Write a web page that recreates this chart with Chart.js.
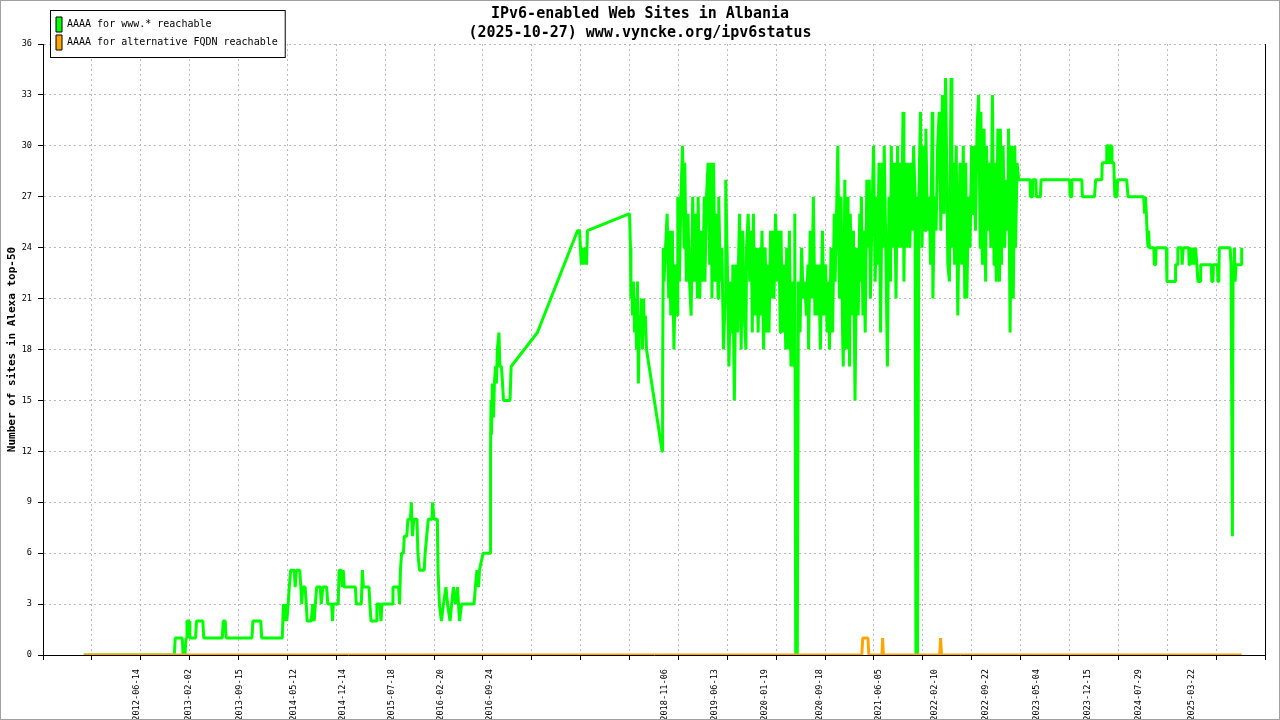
<!DOCTYPE html>
<html>
<head>
<meta charset="utf-8">
<title>IPv6-enabled Web Sites in Albania</title>
<script src="https://cdn.jsdelivr.net/npm/chart.js@4.4.1/dist/chart.umd.min.js"></script>
<style>
    html, body { margin: 0; padding: 0; background: #fff; }
    canvas { display: block; }
</style>
</head>
<body>
<canvas id="ipv6Chart" width="1280" height="720"></canvas>
<script>
// Sites with AAAA for www.* (one line per row)
const wwwDates = [
    '2011-10-26', '2012-11-29', '2012-12-03', '2013-01-03', '2013-01-07', '2013-01-15', '2013-01-20', '2013-01-24',
    '2013-02-02', '2013-02-06', '2013-03-03', '2013-03-07', '2013-04-04', '2013-04-08', '2013-06-29', '2013-07-03',
    '2013-07-12', '2013-07-16', '2013-11-07', '2013-11-11', '2013-12-16', '2013-12-20', '2014-03-21', '2014-03-26',
    '2014-03-30', '2014-04-04', '2014-04-10', '2014-04-16', '2014-04-21', '2014-04-27', '2014-05-13', '2014-05-17',
    '2014-05-22', '2014-06-06', '2014-06-11', '2014-06-15', '2014-06-19', '2014-06-30', '2014-07-05', '2014-07-09',
    '2014-07-27', '2014-08-02', '2014-08-09', '2014-08-14', '2014-08-20', '2014-09-05', '2014-09-09', '2014-09-16',
    '2014-10-03', '2014-10-08', '2014-10-25', '2014-10-29', '2014-11-01', '2014-11-23', '2014-11-27', '2014-12-06',
    '2014-12-11', '2014-12-15', '2014-12-20', '2015-02-07', '2015-02-11', '2015-03-05', '2015-03-10', '2015-03-14',
    '2015-04-08', '2015-04-12', '2015-04-17', '2015-05-09', '2015-05-13', '2015-05-26', '2015-05-31', '2015-06-04',
    '2015-07-19', '2015-07-23', '2015-08-17', '2015-08-21', '2015-08-25', '2015-08-30', '2015-09-07', '2015-09-11',
    '2015-09-22', '2015-09-27', '2015-10-08', '2015-10-12', '2015-10-17', '2015-10-23', '2015-11-06', '2015-11-10',
    '2015-11-17', '2015-12-08', '2015-12-12', '2015-12-19', '2015-12-26', '2016-01-11', '2016-01-14', '2016-01-20',
    '2016-02-04', '2016-02-07', '2016-02-13', '2016-02-22', '2016-03-02', '2016-03-13', '2016-03-20', '2016-03-31',
    '2016-04-07', '2016-04-15', '2016-04-24', '2016-05-03', '2016-05-12', '2016-05-21', '2016-07-15', '2016-07-21',
    '2016-07-28', '2016-08-04', '2016-08-08', '2016-08-24', '2016-09-24', '2016-09-26', '2016-09-28', '2016-09-30',
    '2016-10-04', '2016-10-09', '2016-10-13', '2016-10-18', '2016-10-22', '2016-10-26', '2016-11-02', '2016-11-06',
    '2016-11-13', '2016-11-18', '2016-11-22', '2016-12-21', '2016-12-26', '2017-04-21', '2017-10-15', '2017-10-24',
    '2017-10-28', '2017-11-01', '2017-11-06', '2017-11-10', '2017-11-17', '2017-11-24', '2017-11-28', '2018-06-02',
    '2018-06-06', '2018-06-08', '2018-06-11', '2018-06-15', '2018-06-19', '2018-06-24', '2018-06-28', '2018-07-03',
    '2018-07-07', '2018-07-11', '2018-07-16', '2018-07-20', '2018-07-25', '2018-07-29', '2018-08-03', '2018-08-07',
    '2018-08-11', '2018-08-16', '2018-10-24', '2018-10-26', '2018-10-29',
    '2018-11-01', '2018-11-08', '2018-11-15', '2018-11-22', '2018-11-26',
    '2018-12-01', '2018-12-08', '2018-12-15', '2018-12-22', '2018-12-29',
    '2019-01-01', '2019-01-08', '2019-01-15', '2019-01-22', '2019-01-29',
    '2019-02-01', '2019-02-08', '2019-02-15', '2019-02-22',
    '2019-03-01', '2019-03-08', '2019-03-15', '2019-03-22', '2019-03-29',
    '2019-04-01', '2019-04-08', '2019-04-15', '2019-04-22', '2019-04-28',
    '2019-05-01', '2019-05-08', '2019-05-15', '2019-05-22', '2019-05-29',
    '2019-06-01', '2019-06-08', '2019-06-15', '2019-06-22', '2019-06-28',
    '2019-07-01', '2019-07-08', '2019-07-15', '2019-07-22', '2019-07-29',
    '2019-08-01', '2019-08-08', '2019-08-15', '2019-08-22', '2019-08-29',
    '2019-09-01', '2019-09-08', '2019-09-15', '2019-09-22', '2019-09-26',
    '2019-10-01', '2019-10-08', '2019-10-15', '2019-10-22', '2019-10-29',
    '2019-11-01', '2019-11-08', '2019-11-15', '2019-11-22', '2019-11-26',
    '2019-12-01', '2019-12-08', '2019-12-15', '2019-12-22', '2019-12-29',
    '2020-01-01', '2020-01-08', '2020-01-15', '2020-01-22', '2020-01-29',
    '2020-02-01', '2020-02-08', '2020-02-15', '2020-02-22', '2020-02-26',
    '2020-03-01', '2020-03-08', '2020-03-15', '2020-03-22', '2020-03-29',
    '2020-04-01', '2020-04-08', '2020-04-15', '2020-04-22', '2020-04-26',
    '2020-05-01', '2020-05-08', '2020-05-15', '2020-05-22', '2020-05-29',
    '2020-06-01', '2020-06-05', '2020-06-12', '2020-06-17', '2020-06-24',
    '2020-07-01', '2020-07-08', '2020-07-15', '2020-07-22', '2020-07-29',
    '2020-08-01', '2020-08-08', '2020-08-15', '2020-08-22', '2020-08-29',
    '2020-09-01', '2020-09-08', '2020-09-15', '2020-09-22', '2020-09-27',
    '2020-10-01', '2020-10-08', '2020-10-15', '2020-10-22', '2020-10-29',
    '2020-11-01', '2020-11-08', '2020-11-15', '2020-11-22', '2020-11-26',
    '2020-12-01', '2020-12-08', '2020-12-15', '2020-12-22', '2020-12-29',
    '2021-01-01', '2021-01-08', '2021-01-15', '2021-01-22', '2021-01-29',
    '2021-02-01', '2021-02-08', '2021-02-15', '2021-02-22',
    '2021-03-01', '2021-03-08', '2021-03-15', '2021-03-19', '2021-03-22', '2021-03-29',
    '2021-04-01', '2021-04-08', '2021-04-15', '2021-04-22', '2021-04-26',
    '2021-05-01', '2021-05-08', '2021-05-15', '2021-05-22', '2021-05-29',
    '2021-06-01', '2021-06-08', '2021-06-15', '2021-06-22', '2021-06-26',
    '2021-07-01', '2021-07-08', '2021-07-15', '2021-07-22', '2021-07-29',
    '2021-08-01', '2021-08-08', '2021-08-15', '2021-08-22', '2021-08-29',
    '2021-09-01', '2021-09-08', '2021-09-15', '2021-09-22', '2021-09-26',
    '2021-10-01', '2021-10-08', '2021-10-15', '2021-10-22', '2021-10-29',
    '2021-11-01', '2021-11-08', '2021-11-14', '2021-11-18', '2021-11-25',
    '2021-12-01', '2021-12-08', '2021-12-15', '2021-12-22', '2021-12-29',
    '2022-01-01', '2022-01-08', '2022-01-15', '2022-01-22', '2022-01-29',
    '2022-02-01', '2022-02-08', '2022-02-15', '2022-02-22',
    '2022-03-01', '2022-03-08', '2022-03-15', '2022-03-22', '2022-03-29',
    '2022-04-01', '2022-04-08', '2022-04-15', '2022-04-22', '2022-04-26',
    '2022-05-01', '2022-05-08', '2022-05-15', '2022-05-22', '2022-05-29',
    '2022-06-01', '2022-06-08', '2022-06-15', '2022-06-22', '2022-06-26',
    '2022-07-01', '2022-07-08', '2022-07-15', '2022-07-22', '2022-07-29',
    '2022-08-01', '2022-08-08', '2022-08-15', '2022-08-22', '2022-08-29',
    '2022-09-01', '2022-09-08', '2022-09-15', '2022-09-22', '2022-09-26',
    '2022-10-01', '2022-10-08', '2022-10-15', '2022-10-22', '2022-10-29',
    '2022-11-01', '2022-11-08', '2022-11-15', '2022-11-22', '2022-11-26',
    '2022-12-01', '2022-12-08', '2022-12-15', '2022-12-22', '2022-12-29',
    '2023-01-01', '2023-01-08', '2023-01-15', '2023-01-22', '2023-01-29',
    '2023-02-01', '2023-02-08', '2023-02-15', '2023-02-22',
    '2023-03-01', '2023-04-06', '2023-04-08', '2023-04-16', '2023-04-18', '2023-05-02', '2023-05-04', '2023-05-22',
    '2023-05-25', '2023-09-28', '2023-09-30', '2023-10-06', '2023-10-08', '2023-11-21', '2023-11-23', '2024-01-16',
    '2024-01-21', '2024-02-17', '2024-02-19', '2024-03-08', '2024-03-10', '2024-03-18', '2024-03-20', '2024-03-23',
    '2024-03-30', '2024-04-02', '2024-04-10', '2024-04-12', '2024-04-15', '2024-04-24', '2024-04-27', '2024-06-06',
    '2024-06-12', '2024-08-20', '2024-08-24', '2024-08-28', '2024-09-01', '2024-09-04', '2024-09-08', '2024-09-11',
    '2024-09-14', '2024-10-04', '2024-10-06', '2024-10-12', '2024-10-14', '2024-11-28', '2024-12-01', '2025-01-06',
    '2025-01-08', '2025-01-16', '2025-01-18', '2025-02-04', '2025-02-06', '2025-02-09', '2025-02-11', '2025-03-07',
    '2025-03-09', '2025-03-12', '2025-03-15', '2025-03-19', '2025-03-23', '2025-03-26', '2025-04-02', '2025-04-06',
    '2025-04-12', '2025-04-17', '2025-04-27', '2025-04-29', '2025-06-15', '2025-06-17', '2025-06-22', '2025-06-24',
    '2025-07-12', '2025-07-14', '2025-07-18', '2025-07-20', '2025-09-06', '2025-09-10', '2025-09-13', '2025-09-16',
    '2025-09-19', '2025-09-22', '2025-09-25', '2025-09-28', '2025-10-02', '2025-10-24', '2025-10-27',
];
const wwwValues = [
    0, 0, 1, 1, 0, 0, 1, 2,
    2, 1, 1, 2, 2, 1, 1, 2,
    2, 1, 1, 2, 2, 1, 1, 3,
    2, 3, 2, 3, 4, 5, 5, 4,
    5, 5, 4, 3, 4, 4, 3, 2,
    2, 3, 2, 3, 4, 4, 3, 4,
    4, 3, 3, 2, 3, 3, 5, 5,
    4, 5, 4, 4, 3, 3, 5, 4,
    4, 3, 2, 2, 3, 3, 2, 3,
    3, 4, 4, 3, 5, 6, 6, 7,
    7, 8, 8, 9, 7, 8, 8, 6,
    5, 5, 6, 7, 8, 8, 9, 8,
    8, 5, 3, 2, 3, 4, 3, 2,
    3, 4, 3, 4, 2, 3, 3, 4,
    5, 4, 5, 6, 6, 12, 15, 13,
    16, 14, 16, 17, 16, 18, 19, 17,
    17, 16, 15, 15, 17, 19, 25, 25,
    24, 23, 24, 23, 24, 23, 25, 26,
    24, 21, 22, 20, 22, 19, 21, 18,
    22, 16, 20, 19, 21, 18, 21, 19,
    20, 18, 12, 16, 24,
    22, 24, 26, 21, 25,
    20, 25, 18, 23, 20,
    27, 22, 27, 30, 24,
    29, 22, 26, 22,
    20, 27, 22, 26, 21,
    27, 21, 25, 22, 27,
    22, 27, 29, 23, 29,
    21, 29, 22, 26, 21,
    27, 22, 24, 18, 21,
    28, 23, 17, 22, 19,
    23, 15, 23, 19, 23,
    26, 18, 25, 20, 18,
    24, 26, 22, 25, 19,
    26, 20, 24, 19, 24,
    20, 25, 18, 24, 19,
    23, 19, 25, 21, 25,
    21, 26, 22, 25, 19,
    25, 19, 23, 18, 24,
    18, 25, 17, 22, 17,
    26, 0, 0, 22, 19,
    24, 21, 22, 20, 23,
    18, 25, 21, 27, 20,
    23, 20, 23, 18, 22,
    25, 20, 23, 19, 22,
    18, 24, 19, 26, 22,
    25, 30, 21, 27, 19,
    17, 28, 18, 27, 17,
    26, 20, 25, 15,
    24, 20, 26, 22, 27, 20,
    25, 19, 28, 24, 28,
    21, 26, 30, 22, 27,
    23, 29, 19, 29, 24,
    30, 24, 17, 27, 22,
    30, 24, 29, 21, 30,
    24, 29, 24, 32, 22,
    29, 24, 29, 24, 29,
    25, 30, 27, 0, 0,
    27, 32, 24, 30, 25,
    31, 25, 27, 23, 32,
    21, 27, 25, 30,
    32, 25, 33, 26, 34,
    31, 23, 22, 34, 24,
    29, 23, 30, 20, 27,
    29, 23, 30, 21, 29,
    21, 27, 24, 30, 26,
    30, 25, 31, 33, 24,
    32, 23, 31, 22, 30,
    25, 29, 24, 33, 23,
    29, 22, 31, 22, 31,
    23, 30, 24, 28, 25,
    31, 19, 30, 21, 30,
    24, 29, 28, 28,
    28, 28, 27, 27, 28, 28, 27, 27,
    28, 28, 27, 27, 28, 28, 27, 27,
    28, 28, 29, 29, 30, 30, 29, 30,
    30, 29, 29, 28, 27, 27, 28, 28,
    27, 27, 26, 27, 26, 25, 24, 25,
    24, 24, 23, 23, 24, 24, 22, 22,
    23, 23, 24, 24, 23, 23, 24, 24,
    23, 24, 23, 24, 23, 24, 23, 24,
    23, 22, 22, 23, 23, 22, 22, 23,
    23, 22, 22, 24, 24, 23, 15, 7,
    23, 22, 24, 22, 23, 23, 24,
];

// Sites with AAAA only for an alternative FQDN
const altDates = [
    '2011-10-26', '2021-03-24', '2021-03-28', '2021-04-20', '2021-04-24', '2021-06-21',
    '2021-06-24', '2021-06-27', '2022-03-03', '2022-03-07', '2022-03-11', '2025-10-27',
];
const altValues = [
    0, 0, 1, 1, 0, 0,
    1, 0, 0, 1, 0, 0,
];

// Dated labels under the x axis
const tickLabels = [
    '2012-06-14', '2013-02-02', '2013-09-15', '2014-05-12', '2014-12-14', '2015-07-18',
    '2016-02-20', '2016-09-24', '2018-11-06', '2019-06-13', '2020-01-19', '2020-09-18',
    '2021-06-05', '2022-02-10', '2022-09-22', '2023-05-04', '2023-12-15', '2024-07-29',
    '2025-03-22',
];

// Ends of the x axis and how many grid steps sit between them
const axisStart = '2011-04-29';
const axisEnd = '2026-02-07';
const gridSteps = 25;

document.addEventListener('DOMContentLoaded', () => {
    const toDay = s => Date.parse(s) / 86400000;
    const labelDays = new Map(tickLabels.map(s => [toDay(s), s]));
    const xMin = toDay(axisStart);
    const xMax = toDay(axisEnd);

    // Evenly spaced grid ticks (no text) like gnuplot, plus the dated labels (no grid)
    const gridTicks = [];
    for (let i = 0; i <= gridSteps; i++) {
        gridTicks.push(xMin + (xMax - xMin) * i / gridSteps);
    }
    const allTicks = gridTicks.concat([...labelDays.keys()]).sort((a, b) => a - b);
    const isLabel = ctx => ctx.tick && labelDays.has(ctx.tick.value);

    Chart.defaults.font.family = "'DejaVu Sans Mono', 'Liberation Mono', monospace";
    Chart.defaults.color = '#000';

    // Legend box with a frame, moved to the top-left corner, and the outer grey frame
    const legendFrame = {
        id: 'legendFrame',
        beforeDraw(chart) {
            const ctx = chart.ctx;
            ctx.save();
            ctx.fillStyle = '#fff';
            ctx.fillRect(0, 0, chart.width, chart.height);
            ctx.restore();
        },
        afterLayout(chart) {
            const legend = chart.legend;
            legend.left = 53;
            legend.top = 14;
            legend.right = 320;
            legend.bottom = 90;
        },
        afterDraw(chart) {
            const ctx = chart.ctx;
            const legend = chart.legend;
            const boxes = legend.legendHitBoxes;
            const maxW = Math.max(...boxes.map(b => b.width));
            const left = legend.left - 3;
            const top = legend.top - 4;
            const width = 3 + maxW + 7 + 3;
            const height = 4 + 3 + boxes.length * 18 - 3 + 7;
            ctx.save();
            ctx.fillStyle = '#fff';
            ctx.fillRect(left, top, width, height);
            ctx.strokeStyle = '#000';
            ctx.lineWidth = 1;
            ctx.strokeRect(left + 0.5, top + 0.5, width, height);
            ctx.restore();
            legend.draw();

            ctx.save();
            ctx.strokeStyle = '#a0a0a0';
            ctx.lineWidth = 1;
            ctx.strokeRect(0.5, 0.5, chart.width - 1, chart.height - 1);
            ctx.restore();
        },
    };

    new Chart(document.getElementById('ipv6Chart'), {
        type: 'line',
        data: {
            datasets: [{
                label: 'AAAA for www.* reachable',
                data: wwwDates.map((d, i) => ({ x: toDay(d), y: wwwValues[i] })),
                borderColor: '#00ff00',
                backgroundColor: '#00ff00',
                order: 1,
            }, {
                label: 'AAAA for alternative FQDN reachable',
                data: altDates.map((d, i) => ({ x: toDay(d), y: altValues[i] })),
                borderColor: '#ffa500',
                backgroundColor: '#ffa500',
                order: 0,
            }],
        },
        options: {
            responsive: false,
            animation: false,
            devicePixelRatio: 1,
            layout: { padding: 0 },
            elements: {
                point: { radius: 0, hoverRadius: 0 },
                line: { borderWidth: 3, tension: 0, borderJoinStyle: 'bevel', borderCapStyle: 'butt', fill: false },
            },
            scales: {
                x: {
                    type: 'linear',
                    min: xMin,
                    max: xMax,
                    afterBuildTicks: scale => {
                        scale.ticks = allTicks.map(v => ({ value: v }));
                    },
                    afterFit: scale => {
                        scale.height = 65;
                        // the rotated labels must not push the plot inwards
                        scale.paddingLeft = 0;
                        scale.paddingRight = 0;
                    },
                    ticks: {
                        autoSkip: false,
                        minRotation: 90,
                        maxRotation: 90,
                        padding: 9,
                        font: { size: 8.6 },
                        callback: value => labelDays.get(value) || '',
                    },
                    grid: {
                        color: ctx => isLabel(ctx) ? 'rgba(0,0,0,0)' : '#bbbbbb',
                        tickColor: ctx => isLabel(ctx) ? 'rgba(0,0,0,0)' : '#000000',
                        tickLength: 5,
                        lineWidth: 1,
                    },
                    border: { color: '#000', width: 1, dash: [2, 3] },
                },
                y: {
                    min: 0,
                    max: 36,
                    afterFit: scale => {
                        scale.width = 43;
                    },
                    ticks: { stepSize: 3, padding: 6, font: { size: 8.6 } },
                    grid: { color: '#bbbbbb', tickColor: '#000', tickLength: 5, lineWidth: 1 },
                    border: { color: '#000', width: 1, dash: [2, 3] },
                    title: {
                        display: true,
                        text: 'Number of sites in Alexa top-50',
                        font: { size: 11, weight: 'bold' },
                        padding: { top: 6, bottom: 0 },
                    },
                },
                y2: {
                    position: 'right',
                    min: 0,
                    max: 36,
                    afterFit: scale => {
                        scale.width = 15;
                    },
                    ticks: { display: false },
                    grid: { display: false },
                    border: { color: '#000', width: 1 },
                },
            },
            plugins: {
                title: {
                    display: true,
                    text: ['IPv6-enabled Web Sites in Albania', '(2025-10-27) www.vyncke.org/ipv6status'],
                    font: { size: 15, weight: 'bold', lineHeight: 1.3 },
                    padding: { top: 4, bottom: 1 },
                    color: '#000',
                },
                legend: {
                    position: 'chartArea',
                    align: 'start',
                    labels: {
                        boxWidth: 6,
                        boxHeight: 15,
                        padding: 3,
                        font: { size: 10 },
                        color: '#000',
                        generateLabels: chart => chart.data.datasets.map((ds, i) => ({
                            text: ds.label,
                            fillStyle: ds.borderColor,
                            strokeStyle: '#000',
                            lineWidth: 1,
                            hidden: false,
                            datasetIndex: i,
                            fontColor: '#000',
                        })),
                    },
                },
                tooltip: { enabled: false },
            },
        },
        plugins: [legendFrame],
    });
});
</script>
</body>
</html>
